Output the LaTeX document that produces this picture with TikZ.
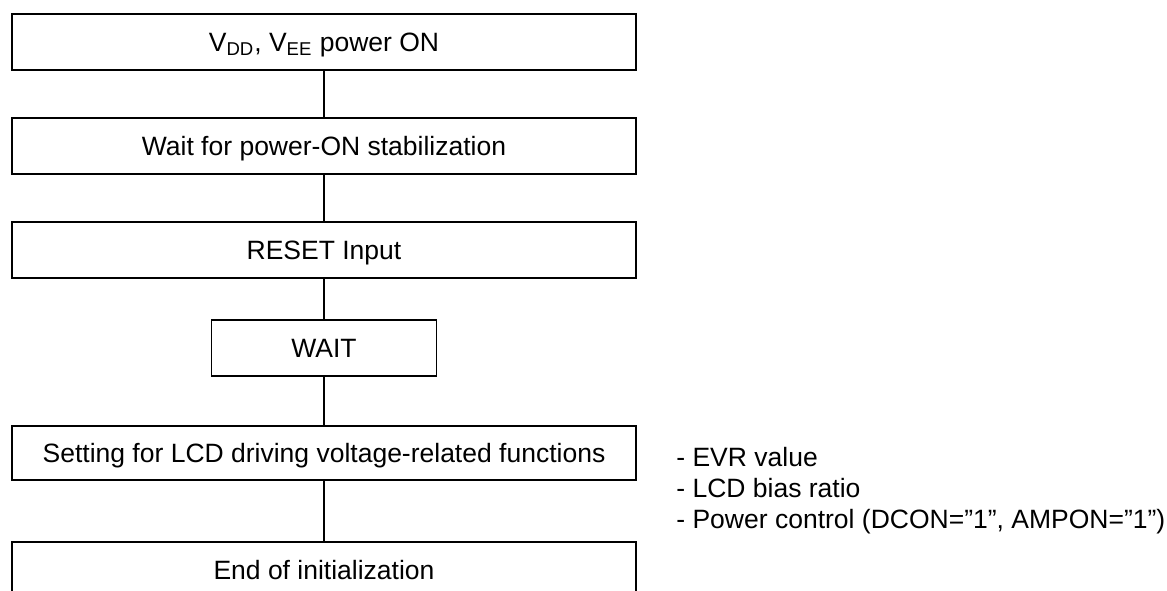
\documentclass[tikz,border=0pt]{standalone}
\usepackage{fontspec}
\setmainfont{Liberation Sans}

\begin{document}
\begin{tikzpicture}[
        x=0.5pt, y=-0.5pt,
        stepbox/.style={draw, line width=0.8pt, fill=white, minimum width=312pt, minimum height=28pt,
            inner sep=0pt, text height=9.5pt, text depth=0pt, font=\fontsize{13.25}{15.5}\selectfont},
        link/.style={line width=0.8pt},
        note/.style={anchor=base west, inner sep=0pt, font=\fontsize{13.25}{15.5}\selectfont},
    ]
    \useasboundingbox (0,0) rectangle (1167,590);

    % Flow steps
    \node[stepbox] (power) at (324,42) {V\textsubscript{DD}, V\textsubscript{EE} power ON};
    \node[stepbox] (stab) at (324,146) {Wait for power-ON stabilization};
    \node[stepbox] (reset) at (324,250) {RESET Input};
    \node[stepbox, minimum width=112.5pt] (wait) at (324,348) {WAIT};
    \node[stepbox, minimum height=27pt] (lcd) at (324,453) {Setting for LCD driving voltage-related functions};
    \node[stepbox] (done) at (324,570) {End of initialization};

    % Connectors
    \draw[link] (power) -- (stab);
    \draw[link] (stab) -- (reset);
    \draw[link] (reset) -- (wait);
    \draw[link] (wait) -- (lcd);
    \draw[link] (lcd) -- (done);

    % Settings list
    \node[note] (evr) at (676,466) {- EVR value};
    \node[note] (bias) at (676,497.5) {- LCD bias ratio};
    \node[note] (pwr) at (676,528.5) {- Power control (DCON=”1”, AMPON=”1”)};
\end{tikzpicture}
\end{document}
